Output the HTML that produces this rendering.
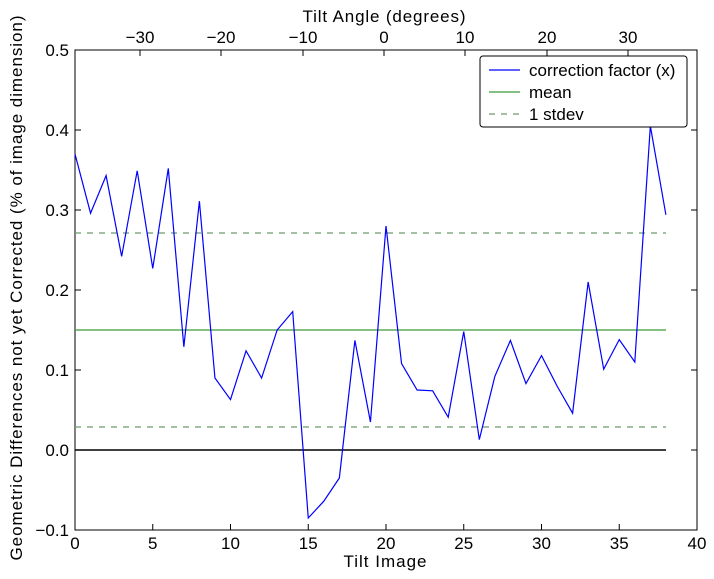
<!DOCTYPE html>
<html><head><style>body{margin:0;background:#fff}svg{display:block}text{font-family:"Liberation Sans",sans-serif;font-size:17px;fill:#000}</style></head><body>
<svg width="714" height="579" viewBox="0 0 714 579">
<rect x="75" y="50" width="622" height="480" fill="#fff" stroke="#000" stroke-width="1"/>
<line x1="75" y1="450" x2="666" y2="450" stroke="#000" stroke-width="1.5"/>
<line x1="75" y1="330" x2="666" y2="330" stroke="#3a9a3a" stroke-width="1.2"/>
<line x1="75" y1="233" x2="666" y2="233" stroke="#6a9a6a" stroke-width="1.2" stroke-dasharray="6,6"/>
<line x1="75" y1="427" x2="666" y2="427" stroke="#6a9a6a" stroke-width="1.2" stroke-dasharray="6,6"/>
<polyline fill="none" stroke="#0000ff" stroke-width="1.2" points="75,154 90.55,213.2 106.1,175.6 121.65,256.4 137.2,170.8 152.75,268.4 168.3,168.4 183.85,346.8 199.4,201.2 214.95,378 230.5,399.6 246.05,350.8 261.6,378 277.15,330 292.7,311.6 308.25,518 323.8,501.2 339.35,478 354.9,340.4 370.45,422 386,226 401.55,363.6 417.1,390 432.65,390.8 448.2,417.2 463.75,331.6 479.3,439.6 494.85,376.4 510.4,340.4 525.95,383.6 541.5,355.6 557.05,386 572.6,413.2 588.15,282 603.7,369.2 619.25,339.6 634.8,362 650.35,126 665.9,214.8"/>
<g stroke="#000" stroke-width="1">
<path d="M75,530v-6M152.75,530v-6M230.5,530v-6M308.25,530v-6M386,530v-6M463.75,530v-6M541.5,530v-6M619.25,530v-6M697,530v-6"/>
<path d="M75,50h6M75,130h6M75,210h6M75,290h6M75,370h6M75,450h6M75,530h6M697,50h-6M697,130h-6M697,210h-6M697,290h-6M697,370h-6M697,450h-6M697,530h-6"/>
<path d="M140,50v6M221,50v6M303,50v6M384,50v6M465,50v6M547,50v6M628,50v6"/>
</g>
<g text-anchor="middle">
<text x="75" y="549">0</text><text x="152.75" y="549">5</text><text x="230.5" y="549">10</text><text x="308.25" y="549">15</text><text x="386" y="549">20</text><text x="463.75" y="549">25</text><text x="541.5" y="549">30</text><text x="619.25" y="549">35</text><text x="697" y="549">40</text>
<text x="140" y="43">−30</text><text x="221" y="43">−20</text><text x="303" y="43">−10</text><text x="384" y="43">0</text><text x="465" y="43">10</text><text x="547" y="43">20</text><text x="628" y="43">30</text>
<text x="385" y="567" textLength="83">Tilt Image</text><text x="384" y="22" textLength="163">Tilt Angle (degrees)</text>
</g>
<g text-anchor="end">
<text x="69" y="56">0.5</text><text x="69" y="136">0.4</text><text x="69" y="216">0.3</text><text x="69" y="296">0.2</text><text x="69" y="376">0.1</text><text x="69" y="456">0.0</text><text x="69" y="536">−0.1</text>
</g>
<text transform="translate(22,288) rotate(-90)" text-anchor="middle" textLength="545">Geometric Differences not yet Corrected (% of image dimension)</text>
<rect x="480" y="56" width="207" height="71" rx="3" fill="#fff" stroke="#000"/>
<line x1="489" y1="70" x2="520" y2="70" stroke="#0000ff" stroke-width="1.2"/>
<line x1="489" y1="92" x2="520" y2="92" stroke="#3a9a3a" stroke-width="1.2"/>
<line x1="489" y1="114" x2="520" y2="114" stroke="#6a9a6a" stroke-width="1.2" stroke-dasharray="6,6"/>
<text x="529" y="76">correction factor (x)</text><text x="529" y="98">mean</text><text x="529" y="120">1 stdev</text>
</svg></body></html>
